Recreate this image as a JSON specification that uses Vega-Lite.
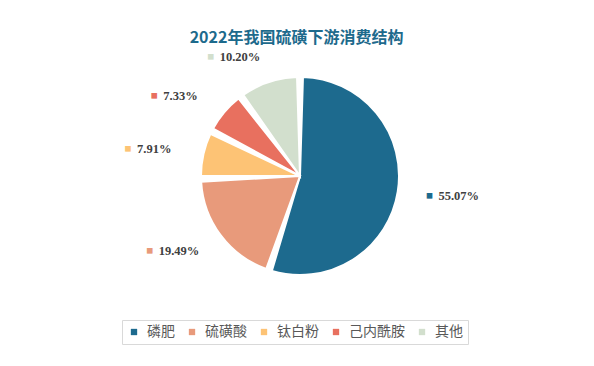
{
  "$schema": "https://vega.github.io/schema/vega-lite/v6.json",
  "width": 573,
  "height": 338,
  "autosize": "none",
  "padding": {"left": 10, "top": 14, "right": 11, "bottom": 14},
  "background": "#ffffff",
  "config": {
    "view": {"fill": "#f6f6f6", "stroke": "#e6e6e6", "strokeWidth": 1},
    "font": "Noto Sans CJK SC"
  },
  "title": {
    "text": "2022年我国硫磺下游消费结构",
    "color": "#1d6a8c",
    "fontSize": 16,
    "fontWeight": "bold",
    "font": "Noto Sans CJK SC",
    "anchor": "middle",
    "offset": -32
  },
  "data": {
    "values": [
      {"类别": "磷肥", "占比": 55.07, "序号": 1, "标签": "55.07%"},
      {"类别": "硫磺酸", "占比": 19.49, "序号": 2, "标签": "19.49%"},
      {"类别": "钛白粉", "占比": 7.91, "序号": 3, "标签": "7.91%"},
      {"类别": "己内酰胺", "占比": 7.33, "序号": 4, "标签": "7.33%"},
      {"类别": "其他", "占比": 10.20, "序号": 5, "标签": "10.20%"}
    ]
  },
  "encoding": {
    "theta": {"field": "占比", "type": "quantitative", "stack": true},
    "order": {"field": "序号", "type": "quantitative"}
  },
  "layer": [
    {
      "mark": {"type": "arc", "radius": 99, "padAngle": 0.06, "stroke": "#ffffff", "strokeWidth": 2,
               "x": {"expr": "width/2+3.5"}, "y": {"expr": "height/2-7"}},
      "encoding": {
        "color": {
          "field": "类别", "type": "nominal",
          "sort": ["磷肥", "硫磺酸", "钛白粉", "己内酰胺", "其他"],
          "scale": {"domain": ["磷肥", "硫磺酸", "钛白粉", "己内酰胺", "其他"],
                    "range": ["#1d6a8e", "#e89a7b", "#fdc375", "#e8705f", "#d2dfcd"]},
          "legend": {
            "orient": "none", "legendX": 112, "legendY": 306,
            "direction": "horizontal", "columns": 5, "title": null,
            "symbolType": "square", "symbolSize": 40, "symbolStrokeWidth": 0,
            "labelFontSize": 14, "labelColor": "#595959", "labelFont": "Noto Sans CJK SC",
            "labelOffset": 6, "columnPadding": 10, "padding": 5,
            "strokeColor": "#d9d9d9"
          }
        }
      }
    },
    {
      "mark": {"type": "text", "radius": 125, "fontSize": 7, "dx": 6, "align": "center", "baseline": "middle",
               "x": {"expr": "width/2+3.5"}, "y": {"expr": "height/2-7"}},
      "encoding": {
        "color": {"field": "类别", "type": "nominal"},
        "text": {"condition": {"test": "datum['类别'] === '磷肥'", "value": "■"}, "value": ""}
      }
    },
    {
      "mark": {"type": "text", "radius": 125, "fontSize": 12.5, "fontWeight": "bold", "font": "Liberation Serif",
               "color": "#404040", "dx": 15, "align": "left", "baseline": "middle",
               "x": {"expr": "width/2+3.5"}, "y": {"expr": "height/2-7"}},
      "encoding": {
        "detail": {"field": "类别", "type": "nominal"},
        "text": {"condition": {"test": "datum['类别'] === '磷肥'", "field": "标签"}, "value": ""}
      }
    },
    {
      "mark": {"type": "text", "radius": 125, "fontSize": 7, "dx": -50, "align": "center", "baseline": "middle",
               "x": {"expr": "width/2+3.5"}, "y": {"expr": "height/2-7"}},
      "encoding": {
        "color": {"field": "类别", "type": "nominal"},
        "text": {"condition": {"test": "datum['类别'] !== '磷肥'", "value": "■"}, "value": ""}
      }
    },
    {
      "mark": {"type": "text", "radius": 125, "fontSize": 12.5, "fontWeight": "bold", "font": "Liberation Serif",
               "color": "#404040", "dx": -41, "align": "left", "baseline": "middle",
               "x": {"expr": "width/2+3.5"}, "y": {"expr": "height/2-7"}},
      "encoding": {
        "detail": {"field": "类别", "type": "nominal"},
        "text": {"condition": {"test": "datum['类别'] !== '磷肥'", "field": "标签"}, "value": ""}
      }
    }
  ]
}
